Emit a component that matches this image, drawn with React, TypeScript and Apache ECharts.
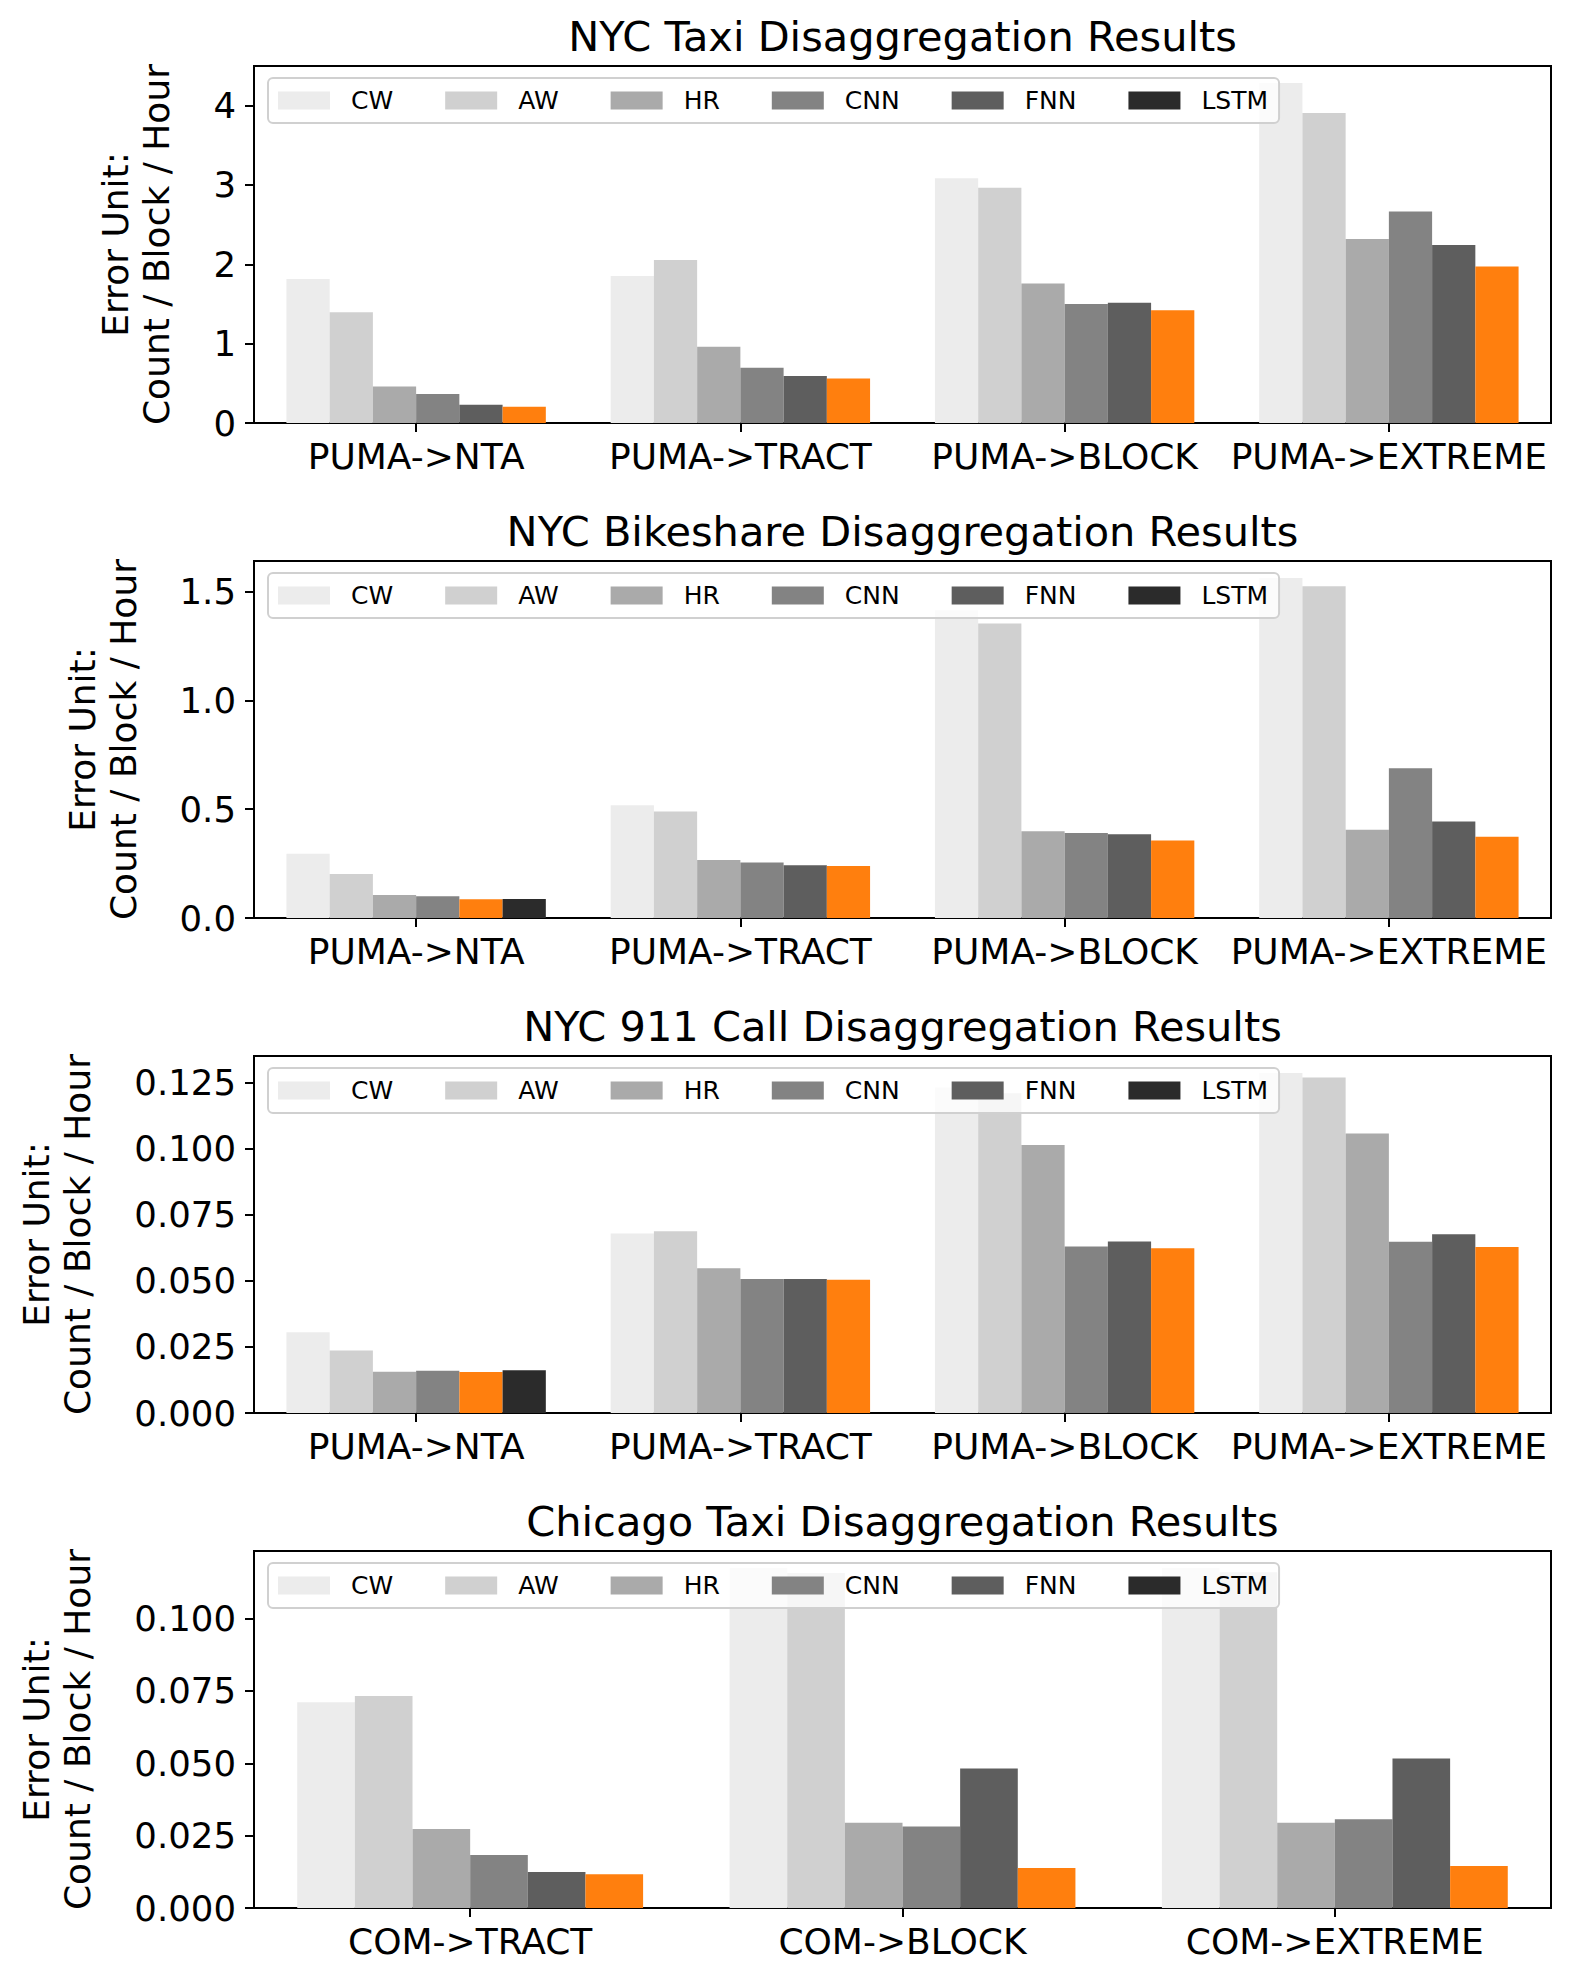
import React, { useEffect, useRef } from "react";
import * as echarts from "echarts";

const methods = ["CW", "AW", "HR", "CNN", "FNN", "LSTM"];
const nycCategories = ["PUMA->NTA", "PUMA->TRACT", "PUMA->BLOCK", "PUMA->EXTREME"];
const chicagoCategories = ["COM->TRACT", "COM->BLOCK", "COM->EXTREME"];

const panelTitles = [
  "NYC Taxi Disaggregation Results",
  "NYC Bikeshare Disaggregation Results",
  "NYC 911 Call Disaggregation Results",
  "Chicago Taxi Disaggregation Results",
];

// rows: CW, AW, HR, CNN, FNN, LSTM ; columns: categories
const nycTaxiValues = [
  [1.815, 1.853, 3.086, 4.285],
  [1.396, 2.054, 2.964, 3.908],
  [0.461, 0.96, 1.757, 2.319],
  [0.365, 0.696, 1.501, 2.667],
  [0.231, 0.591, 1.514, 2.243],
  [0.205, 0.562, 1.421, 1.971],
];
const nycBikeValues = [
  [0.295, 0.518, 1.414, 1.562],
  [0.202, 0.489, 1.353, 1.524],
  [0.1055, 0.266, 0.398, 0.405],
  [0.0994, 0.255, 0.39, 0.688],
  [0.0865, 0.242, 0.385, 0.443],
  [0.0875, 0.2385, 0.356, 0.373],
];
const nyc911Values = [
  [0.0306, 0.0679, 0.1232, 0.1287],
  [0.0237, 0.0688, 0.121, 0.127],
  [0.0156, 0.0548, 0.1014, 0.1058],
  [0.016, 0.0507, 0.063, 0.0648],
  [0.0155, 0.0507, 0.0649, 0.0677],
  [0.0162, 0.0504, 0.0624, 0.0628],
];
const chicagoTaxiValues = [
  [0.0711, 0.1175, 0.1175],
  [0.0733, 0.1158, 0.116],
  [0.0273, 0.0295, 0.0295],
  [0.0183, 0.0282, 0.0307],
  [0.0124, 0.0482, 0.0517],
  [0.0117, 0.0138, 0.0145],
];

// index of the method drawn in orange (best) for each category
const nycTaxiBest = [5, 5, 5, 5];
const nycBikeBest = [4, 5, 5, 5];
const nyc911Best = [4, 5, 5, 5];
const chicagoTaxiBest = [5, 5, 5];

const nycTaxiTicks = [0, 1, 2, 3, 4];
const nycBikeTicks = [0, 0.5, 1.0, 1.5];
const nyc911Ticks = [0, 0.025, 0.05, 0.075, 0.1, 0.125];
const chicagoTaxiTicks = [0, 0.025, 0.05, 0.075, 0.1];
const tickDecimals = [0, 1, 3, 3];

const yLabel = "Error Unit:\nCount / Block / Hour";

const methodColors = ["#ececec", "#d0d0d0", "#aaaaaa", "#838383", "#5e5e5e", "#2b2b2b"];
const bestColor = "#ff7f0e";

const panels = [
  { cats: nycCategories, values: nycTaxiValues, best: nycTaxiBest, ticks: nycTaxiTicks },
  { cats: nycCategories, values: nycBikeValues, best: nycBikeBest, ticks: nycBikeTicks },
  { cats: nycCategories, values: nyc911Values, best: nyc911Best, ticks: nyc911Ticks },
  { cats: chicagoCategories, values: chicagoTaxiValues, best: chicagoTaxiBest, ticks: chicagoTaxiTicks },
];

const FONT = "DejaVu Sans";
const GRID_LEFT = 254;
const GRID_WIDTH = 1297;
const GRID_TOPS = [66, 561, 1056, 1551];
const GRID_HEIGHT = 357;
const NAME_GAPS = [77, 110, 156, 156];

export default function App() {
  const ref = useRef<HTMLDivElement>(null);

  useEffect(() => {
    if (!ref.current) return;
    const chart = echarts.init(ref.current, undefined, { renderer: "svg" });

    const grid: any[] = [];
    const xAxis: any[] = [];
    const yAxis: any[] = [];
    const series: any[] = [];
    const legend: any[] = [];
    const graphic: any[] = [];

    panels.forEach((p, pi) => {
      const top = GRID_TOPS[pi];
      grid.push({
        left: GRID_LEFT,
        top,
        width: GRID_WIDTH,
        height: GRID_HEIGHT,
        show: true,
        borderColor: "#000",
        borderWidth: 2,
        backgroundColor: "transparent",
        containLabel: false,
        outerBoundsMode: "none",
      });
      xAxis.push({
        type: "category",
        gridIndex: pi,
        data: p.cats,
        axisLine: { show: true, lineStyle: { color: "#000", width: 2 } },
        axisTick: { show: true, alignWithLabel: true, length: 9, lineStyle: { color: "#000", width: 2 } },
        axisLabel: { interval: 0, fontSize: 36, color: "#000", margin: 15, fontFamily: FONT },
        splitLine: { show: false },
      });
      const maxVal = Math.max(...p.values.flat()) * 1.05;
      const dec = tickDecimals[pi];
      yAxis.push({
        type: "value",
        gridIndex: pi,
        min: 0,
        max: maxVal,
        axisLine: { show: true, lineStyle: { color: "#000", width: 2 } },
        axisTick: { show: true, length: 9, customValues: p.ticks, lineStyle: { color: "#000", width: 2 } },
        axisLabel: {
          customValues: p.ticks,
          fontSize: 35.5,
          color: "#000",
          margin: 18,
          fontFamily: FONT,
          formatter: (v: number) => Number(v).toFixed(dec),
        },
        splitLine: { show: false },
        name: yLabel,
        nameLocation: "middle",
        nameRotate: 90,
        nameGap: NAME_GAPS[pi],
        nameTextStyle: { fontSize: 36, color: "#000", fontFamily: FONT, lineHeight: 41, align: "center" },
      });
      methods.forEach((m, mi) => {
        series.push({
          type: "bar",
          name: m,
          xAxisIndex: pi,
          yAxisIndex: pi,
          barGap: "0%",
          barCategoryGap: "20%",
          itemStyle: { color: methodColors[mi] },
          data: p.values[mi].map((v, ci) =>
            p.best[ci] === mi ? { value: v, itemStyle: { color: bestColor } } : v
          ),
        });
      });
      legend.push({
        data: methods,
        left: 268,
        top: top + 12,
        orient: "horizontal",
        icon: "rect",
        itemWidth: 52,
        itemHeight: 18,
        itemGap: 52,
        selectedMode: false,
        padding: [10, 11, 10, 10],
        backgroundColor: "rgba(255,255,255,0.8)",
        borderColor: "#d0d0d0",
        borderWidth: 2,
        borderRadius: 5,
        textStyle: { fontSize: 25, color: "#000", fontFamily: FONT, padding: [0, 0, 0, 16] },
      });
      graphic.push({
        type: "text",
        x: GRID_LEFT + GRID_WIDTH / 2,
        y: top - 30,
        style: {
          text: panelTitles[pi],
          fontSize: 41.5,
          fontFamily: FONT,
          fill: "#000",
          align: "center",
          verticalAlign: "middle",
        },
      });
    });

    chart.setOption({
      animation: false,
      backgroundColor: "#fff",
      textStyle: { fontFamily: FONT },
      grid,
      xAxis,
      yAxis,
      series,
      legend,
      graphic,
    });

    return () => chart.dispose();
  }, []);

  return (
    <div
      ref={ref}
      style={{ position: "absolute", left: 0, top: 0, width: 1570, height: 1980, background: "#fff" }}
    />
  );
}
